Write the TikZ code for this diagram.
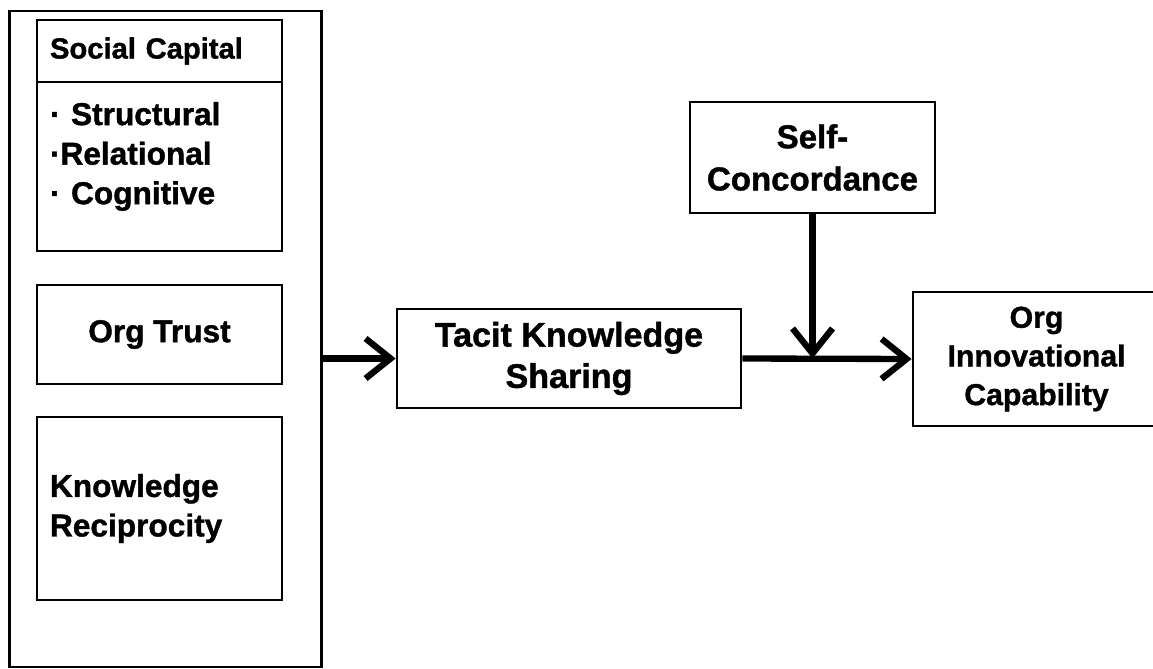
\documentclass[tikz,border=0pt]{standalone}
\usepackage{fontspec}
\setmainfont{Liberation Sans}[BoldFeatures={FakeBold=1.2}]
\usetikzlibrary{arrows.meta,positioning}

\begin{document}
\begin{tikzpicture}[
x=0.02cm, y=-0.02cm,
font=\fontsize{18}{22.5}\selectfont\bfseries,
box/.style={draw=black, line width=1.6pt, fill=white, align=center, inner sep=0pt},
leftbox/.style={box, align=left, minimum width=4.9cm, text width=4.38cm, inner xsep=0.26cm},
arrow/.style={-{Straight Barb[length=0.5cm,width=0.8cm]}, draw=black, line width=3.6pt}
]
\useasboundingbox (0,0) rectangle (1153,669);

\node[box, minimum width=6.25cm, minimum height=13.12cm] (panel) at (165.5,339) {};

\node[leftbox, minimum height=1.24cm, font=\fontsize{16.6}{21}\selectfont\bfseries] (sc) at (159.5,51) {Social Capital};
\node[leftbox, minimum height=3.38cm] (dims) at (159.5,166.5) {· Structural\\·Relational\\· Cognitive\par\kern0.4cm};
\node[box, minimum width=4.9cm, minimum height=1.98cm] (trust) at (159.5,334.5) {Org Trust};
\node[leftbox, minimum height=3.66cm] (recip) at (159.5,508.5) {Knowledge\\Reciprocity};

\node[box, minimum width=6.88cm, minimum height=1.98cm, font=\fontsize{19.4}{23.5}\selectfont\bfseries] (tks) at (569,358.5) {Tacit Knowledge\\Sharing};
\node[box, minimum width=4.9cm, minimum height=2.22cm, font=\fontsize{18.8}{24}\selectfont\bfseries] (selfc) at (812.5,157.5) {Self-\\Concordance};
\node[box, minimum width=4.94cm, minimum height=2.68cm, font=\fontsize{17.2}{22}\selectfont\bfseries] (oic) at (1036.5,359) {Org\\Innovational\\Capability};

\coordinate (join) at (selfc.south |- tks.east);

\draw[arrow] (panel.east |- tks.west) -- (tks.west);
\draw[arrow] (tks.east) -- (oic.west);
\draw[arrow] (selfc.south) -- (join);
\end{tikzpicture}
\end{document}
